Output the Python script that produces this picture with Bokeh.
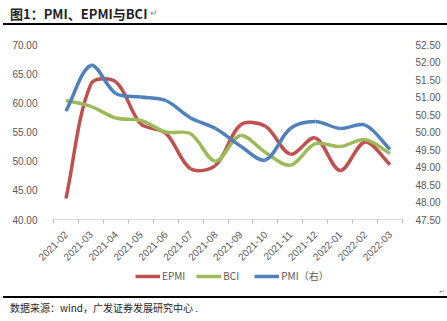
import math
from bokeh.plotting import figure
from bokeh.layouts import column
from bokeh.models import (Range1d, LinearAxis, FixedTicker, Legend, LegendItem,
                          ColumnDataSource, Div)
from bokeh.embed import file_html
from bokeh.resources import INLINE

months = ["2021-02", "2021-03", "2021-04", "2021-05", "2021-06", "2021-07", "2021-08",
          "2021-09", "2021-10", "2021-11", "2021-12", "2022-01", "2022-02", "2022-03"]
epmi = [43.6, 63.2, 63.6, 56.4, 54.8, 48.7, 49.3, 56.2, 56.0, 51.2, 54.0, 48.4, 53.3, 49.4]
bci = [60.4, 59.4, 57.4, 57.0, 55.0, 54.7, 50.0, 54.4, 51.5, 49.3, 53.0, 52.5, 53.7, 51.3]
pmi = [50.6, 51.9, 51.1, 51.0, 50.9, 50.4, 50.1, 49.6, 49.2, 50.1, 50.3, 50.1, 50.2, 49.5]
left_ticks = [40, 45, 50, 55, 60, 65, 70]
right_ticks = [47.5, 48.0, 48.5, 49.0, 49.5, 50.0, 50.5, 51.0, 51.5, 52.0, 52.5]
series_names = ["EPMI", "BCI", "PMI（右）"]
title_text = "图1：PMI、EPMI与BCI"
source_text = "数据来源：wind，广发证券发展研究中心 ."

RED, GREEN, BLUE = "#C0504D", "#9BBB59", "#4F81BD"
GRAY = "#595959"
FONT = "Liberation Sans"
CJK = "Noto Sans CJK SC"

W = 447
TOP_H, MAIN_H, LEG_H, BOT_H = 28, 241, 21, 31
FL, FR = 53, 402                    # frame left/right in px
FT, FB = 44 - TOP_H, 219 - TOP_H    # frame top/bottom inside main figure

# ---------------- title strip ----------------
top = Div(width=W, height=TOP_H, margin=0, text=(
    f'<div style="position:relative;width:{W}px;height:{TOP_H}px;margin:0;padding:0;">'
    f'<span style="position:absolute;left:10px;top:5px;font-family:\'{CJK}\';'
    f'font-weight:bold;font-size:13px;line-height:17px;color:#1F1F1F;white-space:nowrap;">'
    f'{title_text}</span>'
    f'<span style="position:absolute;left:150px;top:7px;font-family:\'{CJK}\';'
    f'font-size:9px;line-height:12px;color:#8C8C8C;">↵</span>'
    f'<div style="position:absolute;left:3px;top:23px;width:{W - 3}px;height:1.5px;'
    f'background:#000;"></div></div>'))

# ---------------- main chart ----------------
p = figure(width=W, height=MAIN_H, output_backend="svg", toolbar_location=None,
           x_range=Range1d(-0.5, len(months) - 0.5), y_range=Range1d(40, 70),
           min_border_left=FL, min_border_right=W - FR, min_border_top=FT,
           min_border_bottom=MAIN_H - FB)
p.outline_line_color = None
p.grid.visible = False
p.extra_y_ranges = {"right": Range1d(47.5, 52.5)}

XPX = (FR - FL) / len(months)       # px per category (for smoothing distances)
YPX_L = (FB - FT) / 30.0
YPX_R = (FB - FT) / 5.0


def bezier_source(xs, ys, ypx):
    # Excel-like smoothing: cubic Bezier segments, tangents scaled by segment lengths
    n = len(xs)
    pts = [(x * XPX, y * ypx) for x, y in zip(xs, ys)]

    def dist(a, b):
        return math.hypot(a[0] - b[0], a[1] - b[1])

    d = dict(x0=[], y0=[], x1=[], y1=[], cx0=[], cy0=[], cx1=[], cy1=[])
    for i in range(n - 1):
        p0 = pts[i - 1] if i > 0 else pts[i]
        p1, p2 = pts[i], pts[i + 1]
        p3 = pts[i + 2] if i + 2 < n else pts[i + 1]
        d01, d12, d23 = dist(p0, p1), dist(p1, p2), dist(p2, p3)
        f1 = d12 / (d01 + d12) / 3 if d01 + d12 > 0 else 0
        f2 = d12 / (d12 + d23) / 3 if d12 + d23 > 0 else 0
        c1 = (p1[0] + (p2[0] - p0[0]) * f1, p1[1] + (p2[1] - p0[1]) * f1)
        c2 = (p2[0] - (p3[0] - p1[0]) * f2, p2[1] - (p3[1] - p1[1]) * f2)
        d["x0"].append(xs[i]); d["y0"].append(ys[i])
        d["x1"].append(xs[i + 1]); d["y1"].append(ys[i + 1])
        d["cx0"].append(c1[0] / XPX); d["cy0"].append(c1[1] / ypx)
        d["cx1"].append(c2[0] / XPX); d["cy1"].append(c2[1] / ypx)
    return ColumnDataSource(d)


xs = list(range(len(months)))
BZ = dict(x0="x0", y0="y0", x1="x1", y1="y1", cx0="cx0", cy0="cy0", cx1="cx1", cy1="cy1")
p.bezier(source=bezier_source(xs, epmi, YPX_L), line_color=RED, line_width=3.5, **BZ)
p.bezier(source=bezier_source(xs, bci, YPX_L), line_color=GREEN, line_width=3.5, **BZ)
p.bezier(source=bezier_source(xs, pmi, YPX_R), line_color=BLUE, line_width=3.5,
         y_range_name="right", **BZ)

# x axis
xa = p.xaxis[0]
xa.ticker = FixedTicker(ticks=xs, minor_ticks=[i - 0.5 for i in range(len(months) + 1)])
xa.major_label_overrides = {i: m for i, m in enumerate(months)}
xa.major_label_orientation = math.pi / 4
xa.major_tick_line_color = None
xa.minor_tick_line_color = "#BFBFBF"
xa.minor_tick_out = 4
xa.minor_tick_in = 0
xa.axis_line_color = "#D9D9D9"
xa.major_label_text_font = FONT
xa.major_label_text_font_size = "10px"
xa.major_label_text_color = GRAY
xa.major_label_standoff = 7

# left axis
ya = p.yaxis[0]
ya.ticker = FixedTicker(ticks=left_ticks)
ya.major_label_overrides = {t: f"{t:.2f}" for t in left_ticks}
ya.axis_line_color = None
ya.major_tick_line_color = None
ya.minor_tick_line_color = None
ya.major_label_text_font = FONT
ya.major_label_text_font_size = "10px"
ya.major_label_text_color = GRAY
ya.major_label_standoff = 10

# right axis
ra = LinearAxis(y_range_name="right", ticker=FixedTicker(ticks=right_ticks))
ra.major_label_overrides = {t: f"{t:.2f}" for t in right_ticks}
ra.axis_line_color = None
ra.major_tick_line_color = None
ra.minor_tick_line_color = None
ra.major_label_text_font = FONT
ra.major_label_text_font_size = "10px"
ra.major_label_text_color = GRAY
ra.major_label_standoff = 7
p.add_layout(ra, "right")

# ---------------- legend strip ----------------
pl = figure(width=W, height=LEG_H, output_backend="svg", toolbar_location=None,
            x_range=Range1d(0, 1), y_range=Range1d(0, 1),
            min_border_left=FL, min_border_right=W - FR, min_border_top=0,
            min_border_bottom=0, x_axis_type=None, y_axis_type=None)
pl.outline_line_color = None
pl.grid.visible = False
nan = float("nan")
leg_renderers = [pl.line(x=[nan], y=[nan], line_color=c, line_width=3.5)
                 for c in (RED, GREEN, BLUE)]
legend = Legend(items=[LegendItem(label=n, renderers=[r])
                       for n, r in zip(series_names, leg_renderers)],
                orientation="horizontal", location=(135 - FL, 7),
                glyph_width=25, glyph_height=12, label_height=12,
                label_standoff=2, spacing=11, padding=0, margin=0,
                border_line_color=None, background_fill_alpha=0,
                label_text_font=CJK, label_text_font_size="10px",
                label_text_color=GRAY)
pl.add_layout(legend, "center")

# ---------------- rule + source strip ----------------
bot = Div(width=W, height=BOT_H, margin=0, text=(
    f'<div style="position:relative;width:{W}px;height:{BOT_H}px;margin:0;padding:0;">'
    f'<span style="position:absolute;left:439px;top:-3px;font-family:\'{CJK}\';'
    f'font-size:7px;line-height:9px;color:#8C8C8C;">↵</span>'
    f'<div style="position:absolute;left:3px;top:6px;width:{W - 3}px;height:1.5px;'
    f'background:#000;"></div>'
    f'<span style="position:absolute;left:10px;top:11px;font-family:\'{CJK}\';'
    f'font-size:10px;line-height:14px;color:#262626;white-space:nowrap;">'
    f'{source_text}</span></div>'))

layout = column(top, p, pl, bot, spacing=0)
open("out.html", "w").write(file_html(layout, INLINE))
